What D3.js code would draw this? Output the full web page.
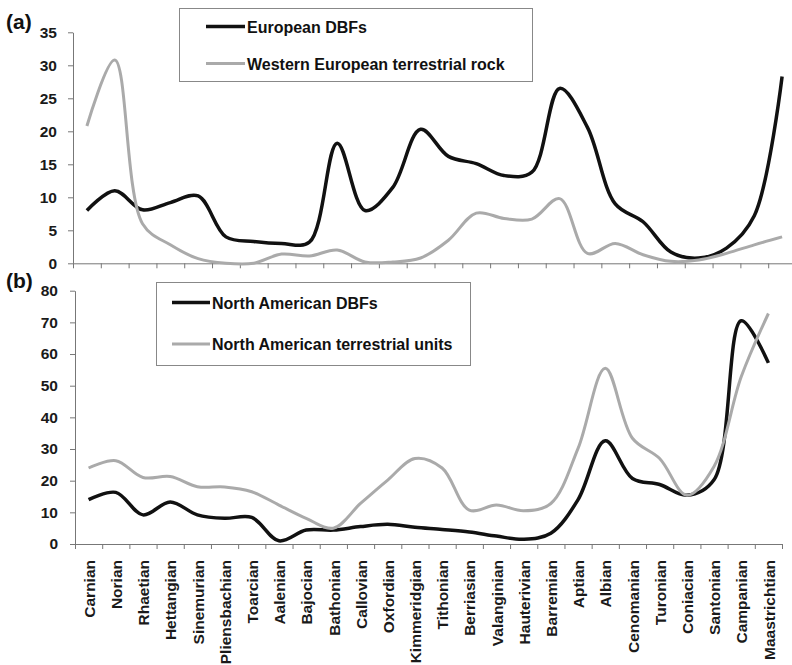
<!DOCTYPE html>
<html>
<head>
<meta charset="utf-8">
<script src="https://cdn.jsdelivr.net/npm/d3@7"></script>
<style>
  body { margin: 0; background: #fff; }
  svg { display: block; font-family: "Liberation Sans", Arial, sans-serif; }
  .axis path, .axis line { stroke: #777; }
  .axis text { fill: #1a1a1a; font-weight: bold; font-size: 15.5px; }
</style>
</head>
<body>
<div id="chart"></div>
<script>
// stages along the x axis
var stages = ["Carnian", "Norian", "Rhaetian", "Hettangian", "Sinemurian", "Pliensbachian",
  "Toarcian", "Aalenian", "Bajocian", "Bathonian", "Callovian", "Oxfordian", "Kimmeridgian",
  "Tithonian", "Berriasian", "Valanginian", "Hauterivian", "Barremian", "Aptian", "Albian",
  "Cenomanian", "Turonian", "Coniacian", "Santonian", "Campanian", "Maastrichtian"];

// panel (a)
var euroDBFs = [8, 11, 8.1, 9.2, 10.2, 4, 3.3, 3, 3.2, 18.2, 8, 11.5, 20.3, 16.2, 15.1, 13.3, 13.8,
  26.5, 20.6, 9, 6.3, 1.7, 0.8, 2.3, 7.2, 28.3];
var westEuroRock = [20.8, 30.8, 6, 2.8, 0.7, 0, 0, 1.4, 1.1, 2, 0.2, 0.2, 0.8, 3.5, 7.6,
  6.8, 6.7, 9.8, 1.5, 3, 1.3, 0.3, 0.5, 1.5, 2.8, 4];
var yTicksA = [0, 5, 10, 15, 20, 25, 30, 35];

// panel (b)
var naDBFs = [14, 16.3, 9.2, 13.3, 9.2, 8.1, 8.4, 1, 4.4, 4.4, 5.5, 6.2, 5.3, 4.6, 3.8, 2.5,
  1.5, 3.4, 14, 32.6, 20.7, 18.8, 15.4, 20.3, 70.5, 57.2];
var naUnits = [24, 26.3, 21, 21.3, 18.1, 18, 16.5, 12.3, 8.1, 5, 12.8, 20.2, 27, 24, 10.7,
  12.3, 10.5, 12.8, 30.2, 55.5, 33.4, 27, 15.4, 24.5, 52.8, 72.8];
var yTicksB = [0, 10, 20, 30, 40, 50, 60, 70, 80];

var svg = d3.select("#chart").append("svg")
    .attr("width", 792)
    .attr("height", 665);

function drawPanel(p) {
    var g = svg.append("g");

    var xb = d3.scaleLinear().domain([0, stages.length]).range([p.left, p.right]);
    var xc = d3.scaleBand().domain(stages).range([p.left, p.right]);
    var y = d3.scaleLinear().domain([0, p.yMax]).range([p.bottom, p.top]);

    // x axis: ticks at the stage boundaries
    g.append("g")
        .attr("class", "axis")
        .attr("transform", "translate(0," + p.bottom + ")")
        .call(d3.axisBottom(xb).tickValues(d3.range(0, stages.length + 1))
            .tickSize(5).tickSizeOuter(0).tickFormat(""));

    if (p.labels) {
        var lab = g.append("g")
            .attr("class", "axis")
            .attr("transform", "translate(0," + p.bottom + ")")
            .call(d3.axisBottom(xc).tickSize(0));
        lab.select(".domain").remove();
        lab.selectAll("text")
            .attr("transform", "rotate(-90)")
            .attr("x", -16)
            .attr("y", 0)
            .attr("dy", "0.4em")
            .style("text-anchor", "end");
    }

    g.append("g")
        .attr("class", "axis")
        .attr("transform", "translate(" + p.left + ",0)")
        .call(d3.axisLeft(y).tickValues(p.yTicks).tickSize(5).tickSizeOuter(0).tickPadding(p.pad));

    // centripetal spline keeps the steep drops from overshooting
    var line = d3.line()
        .x(function(d, i) { return xc(stages[i]) + xc.bandwidth() / 2; })
        .y(function(d) { return y(d); })
        .curve(d3.curveCatmullRom.alpha(0.5));

    p.series.forEach(function(s) {
        g.append("path")
            .datum(s.values)
            .attr("fill", "none")
            .attr("stroke", s.color)
            .attr("stroke-width", s.width)
            .attr("stroke-linejoin", "round")
            .attr("d", line);
    });

    // legend
    var lg = g.append("g");
    lg.append("rect")
        .attr("x", p.legend.x).attr("y", p.legend.y)
        .attr("width", p.legend.w).attr("height", p.legend.h)
        .attr("fill", "#fff").attr("stroke", "#888").attr("stroke-width", 1);
    p.series.forEach(function(s, i) {
        var ly = p.legend.y + p.legend.rows[i];
        lg.append("line")
            .attr("x1", p.legend.lx).attr("x2", p.legend.lx + p.legend.lw)
            .attr("y1", ly).attr("y2", ly)
            .attr("stroke", s.color).attr("stroke-width", s.width);
        lg.append("text")
            .attr("x", p.legend.lx + p.legend.lw + 2)
            .attr("y", ly + 6)
            .style("font-size", "16px")
            .style("font-weight", "bold")
            .style("fill", "#111")
            .text(s.name);
    });

    g.append("text")
        .attr("x", 6)
        .attr("y", p.top - 3)
        .style("font-size", "21px")
        .style("font-weight", "bold")
        .style("fill", "#111")
        .text(p.tag);
}

drawPanel({
    tag: "(a)", left: 73, right: 796, top: 32.3, bottom: 263.3, yMax: 35, yTicks: yTicksA,
    pad: 11, labels: false,
    legend: {x: 179.5, y: 8.5, w: 353, h: 73, lx: 206, lw: 39, rows: [18, 55]},
    series: [
        {name: "European DBFs", values: euroDBFs, color: "#111", width: 3.5},
        {name: "Western European terrestrial rock", values: westEuroRock, color: "#aaa", width: 3}
    ]
});

drawPanel({
    tag: "(b)", left: 75, right: 782, top: 290.7, bottom: 544, yMax: 80, yTicks: yTicksB,
    pad: 12, labels: true,
    legend: {x: 156.5, y: 282.5, w: 314, h: 83, lx: 172, lw: 38, rows: [20, 61.5]},
    series: [
        {name: "North American DBFs", values: naDBFs, color: "#111", width: 3.5},
        {name: "North American terrestrial units", values: naUnits, color: "#aaa", width: 3}
    ]
});
</script>
</body>
</html>
